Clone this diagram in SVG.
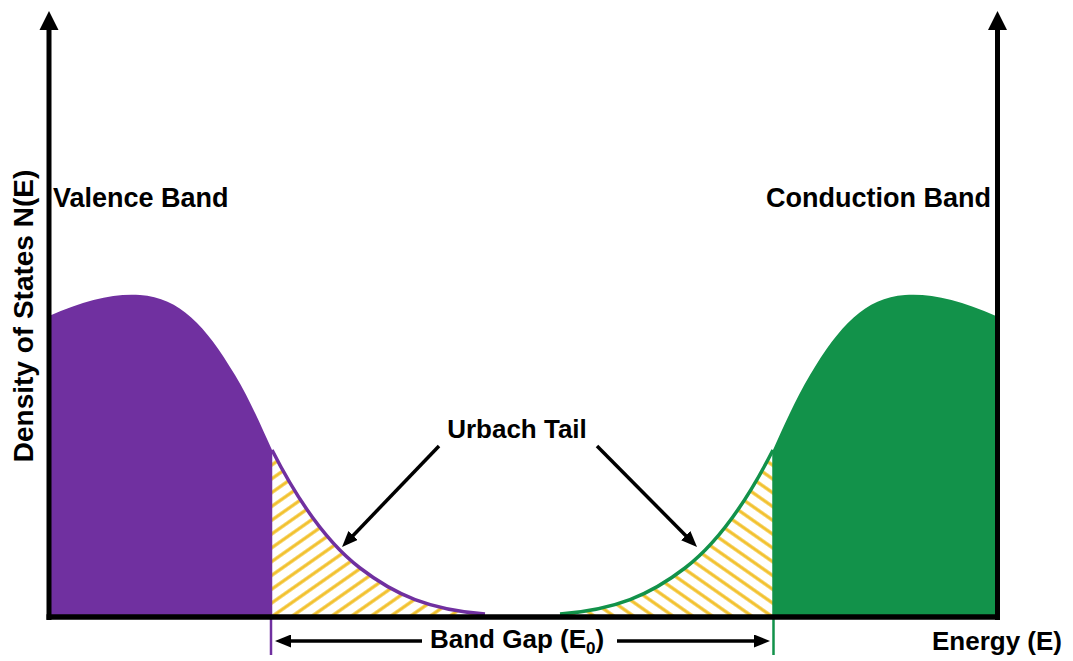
<svg xmlns="http://www.w3.org/2000/svg" width="1073" height="661" viewBox="0 0 1073 661">
<style>
text{font-family:"Liberation Sans",Arial,sans-serif;font-weight:bold;fill:#000}
.lbl{font-size:26px}
.band{font-size:27px}
.arr{stroke:#000;stroke-width:3.5;fill:none}
.hatch{stroke:#F2C12E;stroke-width:3.2}
</style>
<defs>
<marker id="ah" viewBox="0 0 16 13" refX="10" refY="6.5" markerWidth="16" markerHeight="13" markerUnits="userSpaceOnUse" orient="auto">
<path d="M0,0 L16,6.5 L0,13 Z" fill="#000"/>
</marker>
<pattern id="hatchL" width="11.3" height="11.3" patternUnits="userSpaceOnUse" patternTransform="rotate(-35)">
<line class="hatch" x1="-1" y1="5.65" x2="12.3" y2="5.65"/>
</pattern>
<pattern id="hatchR" width="11.3" height="11.3" patternUnits="userSpaceOnUse" patternTransform="rotate(35)">
<line class="hatch" x1="-1" y1="5.65" x2="12.3" y2="5.65"/>
</pattern>
</defs>
<rect width="1073" height="661" fill="#fff"/>

<g id="valence-band">
<path d="M49,617 L49,316 C85,300 115,293 140,295 C180,298 205,325 235,375 C250,400 262,428 272,450 L272,617 Z" fill="#7030A0"/>
<path d="M272,450 C300,505 330,545 360,568 C395,595 430,610 485,614 L485,617 L272,617 Z" fill="url(#hatchL)"/>
<path d="M272,450 C300,505 330,545 360,568 C395,595 430,610 485,614" fill="none" stroke="#7030A0" stroke-width="3.5"/>
<line x1="271" y1="450" x2="271" y2="655" stroke="#7030A0" stroke-width="2.5"/>
<text class="band" x="53" y="207">Valence Band</text>
</g>

<g id="conduction-band">
<path d="M996,617 L996,316 C960,300 930,293 905,295 C865,298 840,325 810,375 C795,400 783,428 773,450 L773,617 Z" fill="#12924A"/>
<path d="M773,450 C745,505 715,545 685,568 C650,595 615,610 560,614 L560,617 L773,617 Z" fill="url(#hatchR)"/>
<path d="M773,450 C745,505 715,545 685,568 C650,595 615,610 560,614" fill="none" stroke="#12924A" stroke-width="3.5"/>
<line x1="773.5" y1="450" x2="773.5" y2="655" stroke="#12924A" stroke-width="2.5"/>
<text class="band" x="991" y="207" text-anchor="end">Conduction Band</text>
</g>

<g id="axes">
<line x1="49" y1="27" x2="49" y2="620" stroke="#000" stroke-width="5"/>
<polygon points="49,11 39.5,30 58.5,30" fill="#000"/>
<line x1="997.5" y1="27" x2="997.5" y2="620" stroke="#000" stroke-width="5"/>
<polygon points="997.5,11 988,30 1007,30" fill="#000"/>
<line x1="46.5" y1="617" x2="1000" y2="617" stroke="#000" stroke-width="5.5"/>
<text x="0" y="0" font-size="28" text-anchor="middle" transform="translate(33,316) rotate(-90)">Density of States N(E)</text>
<text class="lbl" x="1062" y="650" text-anchor="end">Energy (E)</text>
</g>

<g id="urbach-tail">
<text class="lbl" x="517" y="438" text-anchor="middle">Urbach Tail</text>
</g>

<g id="band-gap">
<text class="lbl" x="430" y="648">Band Gap (E<tspan font-size="17" dy="6">0</tspan><tspan dy="-6">)</tspan></text>
</g>

<g id="connectors">
<line class="arr" x1="439" y1="446" x2="346.2" y2="542.7" marker-end="url(#ah)"/>
<line class="arr" x1="597" y1="446" x2="692.8" y2="542.7" marker-end="url(#ah)"/>
<line class="arr" x1="422" y1="641" x2="281" y2="641" marker-end="url(#ah)"/>
<line class="arr" x1="617" y1="641" x2="764" y2="641" marker-end="url(#ah)"/>
</g>
</svg>
